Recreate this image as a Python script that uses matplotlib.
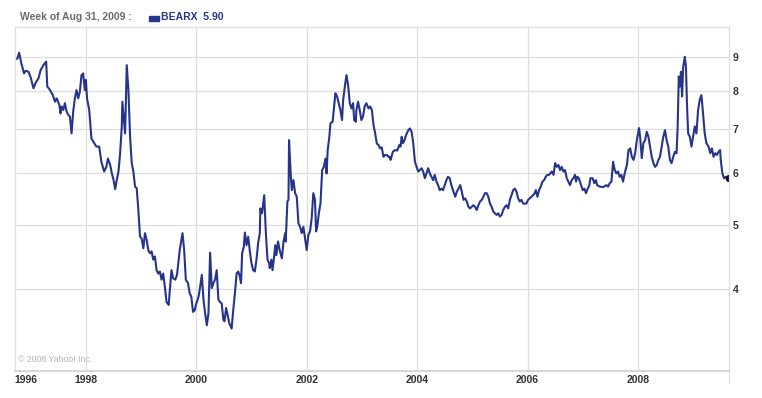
import matplotlib.pyplot as plt
from matplotlib.patches import Rectangle
from matplotlib.ticker import FixedLocator, NullLocator

# weekly closes (decimal year, price)
years = [
    1996.71, 1996.76, 1996.79, 1996.83, 1996.88, 1996.91, 1996.96, 1997.00, 1997.05, 1997.09,
    1997.14, 1997.18, 1997.23, 1997.28, 1997.30, 1997.35, 1997.40, 1997.44, 1997.47, 1997.52,
    1997.54, 1997.56, 1997.59, 1997.62, 1997.65, 1997.68, 1997.71, 1997.74, 1997.77, 1997.80,
    1997.83, 1997.86, 1997.89, 1997.92, 1997.95, 1997.98, 1998.00, 1998.02, 1998.06, 1998.10,
    1998.15, 1998.19, 1998.24, 1998.28, 1998.33, 1998.37, 1998.40, 1998.44, 1998.47, 1998.50,
    1998.53, 1998.56, 1998.59, 1998.62, 1998.65, 1998.66, 1998.71, 1998.74, 1998.77, 1998.80,
    1998.83, 1998.86, 1998.89, 1998.92, 1998.95, 1998.98, 1999.01, 1999.04, 1999.07, 1999.10,
    1999.13, 1999.16, 1999.19, 1999.22, 1999.25, 1999.28, 1999.31, 1999.34, 1999.37, 1999.40,
    1999.43, 1999.46, 1999.50, 1999.52, 1999.55, 1999.58, 1999.62, 1999.65, 1999.70, 1999.75,
    1999.78, 1999.81, 1999.85, 1999.88, 1999.91, 1999.94, 1999.97, 2000.00, 2000.04, 2000.07,
    2000.10, 2000.13, 2000.16, 2000.19, 2000.22, 2000.25, 2000.28, 2000.31, 2000.34, 2000.37,
    2000.40, 2000.43, 2000.46, 2000.49, 2000.51, 2000.54, 2000.56, 2000.60, 2000.64, 2000.67,
    2000.70, 2000.73, 2000.76, 2000.79, 2000.81, 2000.83, 2000.86, 2000.88, 2000.91, 2000.94,
    2000.97, 2001.00, 2001.03, 2001.06, 2001.09, 2001.12, 2001.15, 2001.16, 2001.19, 2001.23,
    2001.26, 2001.29, 2001.32, 2001.33, 2001.36, 2001.38, 2001.41, 2001.43, 2001.45, 2001.48,
    2001.51, 2001.55, 2001.58, 2001.61, 2001.62, 2001.65, 2001.67, 2001.68, 2001.71, 2001.73,
    2001.76, 2001.79, 2001.82, 2001.85, 2001.88, 2001.91, 2001.94, 2001.97, 2002.00, 2002.03,
    2002.06, 2002.09, 2002.12, 2002.15, 2002.17, 2002.19, 2002.22, 2002.25, 2002.28, 2002.31,
    2002.34, 2002.36, 2002.38, 2002.41, 2002.43, 2002.47, 2002.49, 2002.52, 2002.55, 2002.58,
    2002.61, 2002.64, 2002.66, 2002.69, 2002.72, 2002.75, 2002.78, 2002.81, 2002.84, 2002.86,
    2002.89, 2002.90, 2002.93, 2002.96, 2002.99, 2003.02, 2003.05, 2003.08, 2003.12, 2003.15,
    2003.18, 2003.21, 2003.24, 2003.27, 2003.30, 2003.33, 2003.36, 2003.39, 2003.42, 2003.45,
    2003.48, 2003.50, 2003.52, 2003.56, 2003.60, 2003.64, 2003.68, 2003.70, 2003.72, 2003.74,
    2003.76, 2003.80, 2003.84, 2003.87, 2003.90, 2003.93, 2003.96, 2003.99, 2004.02, 2004.05,
    2004.08, 2004.11, 2004.14, 2004.17, 2004.20, 2004.23, 2004.26, 2004.29, 2004.32, 2004.35,
    2004.38, 2004.41, 2004.44, 2004.47, 2004.50, 2004.53, 2004.56, 2004.59, 2004.62, 2004.66,
    2004.69, 2004.72, 2004.75, 2004.78, 2004.81, 2004.84, 2004.87, 2004.90, 2004.93, 2004.96,
    2004.99, 2005.02, 2005.05, 2005.08, 2005.11, 2005.14, 2005.17, 2005.20, 2005.23, 2005.26,
    2005.29, 2005.32, 2005.35, 2005.38, 2005.41, 2005.44, 2005.47, 2005.50, 2005.53, 2005.56,
    2005.59, 2005.62, 2005.65, 2005.68, 2005.71, 2005.74, 2005.77, 2005.80, 2005.83, 2005.86,
    2005.89, 2005.92, 2005.95, 2005.98, 2006.01, 2006.04, 2006.07, 2006.10, 2006.13, 2006.15,
    2006.18, 2006.21, 2006.24, 2006.27, 2006.30, 2006.33, 2006.36, 2006.39, 2006.44, 2006.47,
    2006.50, 2006.53, 2006.56, 2006.59, 2006.62, 2006.65, 2006.68, 2006.71, 2006.74, 2006.77,
    2006.80, 2006.83, 2006.86, 2006.88, 2006.90, 2006.93, 2006.97, 2007.00, 2007.03, 2007.06,
    2007.08, 2007.12, 2007.14, 2007.18, 2007.21, 2007.24, 2007.26, 2007.31, 2007.37, 2007.43,
    2007.46, 2007.49, 2007.52, 2007.55, 2007.58, 2007.61, 2007.64, 2007.67, 2007.70, 2007.73,
    2007.76, 2007.80, 2007.83, 2007.86, 2007.89, 2007.92, 2007.95, 2007.98, 2008.02, 2008.04,
    2008.07, 2008.10, 2008.13, 2008.16, 2008.19, 2008.22, 2008.25, 2008.28, 2008.31, 2008.34,
    2008.37, 2008.40, 2008.43, 2008.46, 2008.49, 2008.52, 2008.55, 2008.58, 2008.61, 2008.64,
    2008.67, 2008.70, 2008.72, 2008.74, 2008.76, 2008.78, 2008.80, 2008.82, 2008.85, 2008.87,
    2008.89, 2008.91, 2008.94, 2008.97, 2009.00, 2009.03, 2009.06, 2009.09, 2009.12, 2009.15,
    2009.18, 2009.21, 2009.24, 2009.28, 2009.31, 2009.34, 2009.37, 2009.40, 2009.43, 2009.46,
    2009.49, 2009.50, 2009.53, 2009.56, 2009.59, 2009.63, 2009.645,
]
prices = [
    8.93, 8.96, 9.14, 8.81, 8.50, 8.58, 8.55, 8.38, 8.07, 8.23,
    8.35, 8.60, 8.75, 8.86, 8.12, 8.02, 7.88, 7.70, 7.79, 7.61,
    7.39, 7.57, 7.48, 7.66, 7.44, 7.35, 7.31, 6.89, 7.44, 7.79,
    8.02, 7.79, 7.97, 8.45, 8.50, 8.02, 8.31, 7.79, 7.48, 6.77,
    6.66, 6.58, 6.58, 6.24, 6.03, 6.13, 6.31, 6.17, 5.99, 5.86,
    5.67, 5.86, 6.03, 6.43, 7.06, 7.70, 6.89, 8.75, 8.02, 6.81,
    6.21, 6.03, 5.72, 5.69, 5.27, 4.80, 4.77, 4.61, 4.86, 4.75,
    4.58, 4.53, 4.56, 4.43, 4.48, 4.27, 4.22, 4.25, 4.13, 4.22,
    4.03, 3.82, 3.78, 3.98, 4.27, 4.15, 4.13, 4.20, 4.58, 4.86,
    4.58, 4.13, 4.08, 3.94, 3.89, 3.69, 3.71, 3.80, 3.89, 4.03,
    4.20, 3.85, 3.67, 3.52, 3.67, 4.54, 4.01, 4.08, 4.13, 4.27,
    3.85, 3.82, 3.80, 3.59, 3.57, 3.74, 3.67, 3.54, 3.48, 3.72,
    3.94, 4.22, 4.25, 4.17, 4.08, 4.53, 4.63, 4.87, 4.66, 4.80,
    4.56, 4.37, 4.27, 4.25, 4.43, 4.69, 4.86, 5.30, 5.21, 5.55,
    4.86, 4.43, 4.37, 4.30, 4.43, 4.27, 4.48, 4.66, 4.50, 4.72,
    4.58, 4.45, 4.72, 4.86, 4.72, 5.43, 5.46, 6.73, 5.99, 5.65,
    5.85, 5.59, 5.52, 5.03, 4.97, 4.86, 4.97, 4.77, 4.58, 4.83,
    4.89, 5.12, 5.59, 5.46, 4.89, 4.97, 5.21, 5.40, 6.06, 6.13,
    6.31, 5.99, 6.50, 6.81, 7.14, 7.18, 7.48, 7.93, 7.84, 7.66,
    7.48, 7.22, 7.74, 8.11, 8.45, 8.16, 7.66, 7.52, 7.66, 7.22,
    7.18, 7.48, 7.70, 7.48, 7.22, 7.31, 7.57, 7.66, 7.52, 7.57,
    7.48, 7.10, 6.89, 6.65, 6.62, 6.54, 6.56, 6.35, 6.39, 6.39,
    6.35, 6.35, 6.28, 6.46, 6.50, 6.49, 6.62, 6.58, 6.81, 6.66,
    6.69, 6.85, 6.97, 7.01, 6.93, 6.66, 6.24, 6.13, 6.03, 6.06,
    6.10, 6.03, 5.89, 5.99, 6.10, 5.99, 5.92, 5.85, 5.96, 5.82,
    5.75, 5.65, 5.68, 5.65, 5.75, 5.85, 5.92, 5.89, 5.75, 5.62,
    5.52, 5.62, 5.68, 5.75, 5.62, 5.46, 5.49, 5.43, 5.33, 5.30,
    5.33, 5.36, 5.33, 5.27, 5.36, 5.43, 5.46, 5.52, 5.59, 5.59,
    5.52, 5.39, 5.33, 5.24, 5.21, 5.18, 5.21, 5.15, 5.18, 5.27,
    5.33, 5.36, 5.30, 5.46, 5.55, 5.65, 5.68, 5.62, 5.49, 5.43,
    5.46, 5.39, 5.39, 5.39, 5.46, 5.49, 5.52, 5.55, 5.59, 5.65,
    5.52, 5.65, 5.72, 5.82, 5.85, 5.92, 5.96, 5.96, 6.03, 5.96,
    6.21, 6.13, 6.17, 6.06, 6.13, 6.03, 6.06, 5.89, 5.82, 5.75,
    5.85, 5.89, 5.96, 5.82, 5.92, 5.89, 5.75, 5.65, 5.68, 5.59,
    5.65, 5.75, 5.89, 5.89, 5.79, 5.85, 5.75, 5.72, 5.71, 5.75,
    5.72, 5.79, 5.82, 6.24, 6.06, 5.99, 6.03, 5.92, 5.96, 5.82,
    5.99, 6.17, 6.50, 6.54, 6.35, 6.28, 6.43, 6.73, 7.02, 6.81,
    6.32, 6.66, 6.73, 6.93, 6.81, 6.58, 6.35, 6.21, 6.13, 6.17,
    6.28, 6.35, 6.58, 6.81, 6.97, 6.73, 6.58, 6.28, 6.21, 6.35,
    6.46, 6.43, 7.06, 8.41, 8.12, 8.55, 7.84, 8.70, 9.01, 8.70,
    7.57, 6.89, 6.81, 6.58, 6.81, 7.06, 6.89, 7.48, 7.75, 7.88,
    7.39, 6.89, 6.66, 6.58, 6.43, 6.54, 6.35, 6.43, 6.39, 6.46,
    6.50, 6.28, 5.99, 5.89, 5.92, 5.85, 5.90,
]

x_ticks = [1998, 2000, 2002, 2004, 2006, 2008]
y_ticks = [4, 5, 6, 7, 8, 9]
first_year_label = "1996"
week_label = "Week of Aug 31, 2009 :"
ticker = "BEARX"
last_close = "5.90"
credit = "\u00a9 2008 Yahoo! Inc."

LINE = "#27348b"
GRID = "#dedede"
TEXT = "#333333"
FONT = "Liberation Sans"

W, H = 762, 398
fig = plt.figure(figsize=(W / 100, H / 100), dpi=100)
ax = fig.add_axes([14.7 / W, 1 - 371 / H, (729 - 14.7) / W, (371 - 27) / H])

ax.plot(years, prices, color=LINE, lw=1.5, solid_joinstyle="round")
ax.plot(years[-1], prices[-1], "o", color="#0d0d2e", ms=4.5)

ax.set_yscale("log")
ax.set_ylim(3, 10)
ax.set_xlim(1996.71, 2009.65)

ax.yaxis.tick_right()
ax.yaxis.set_major_locator(FixedLocator(y_ticks))
ax.yaxis.set_minor_locator(NullLocator())
ax.set_yticklabels([str(v) for v in y_ticks])
ax.set_xticks(x_ticks)
ax.set_xticklabels([str(v) for v in x_ticks])
ax.xaxis.set_minor_locator(NullLocator())

ax.tick_params(axis="both", length=0, labelsize=7.5, labelcolor=TEXT)
ax.tick_params(axis="x", pad=3)
ax.tick_params(axis="y", pad=2.5)
for lbl in ax.get_xticklabels() + ax.get_yticklabels():
    lbl.set_fontweight("bold")
    lbl.set_family(FONT)

ax.grid(True, color=GRID, lw=0.9)
ax.set_axisbelow(True)
for side in ["left", "right", "top", "bottom"]:
    ax.spines[side].set_color(GRID)
    ax.spines[side].set_linewidth(0.9)
ax.spines["bottom"].set_color("#cfcfcf")
ax.spines["bottom"].set_linewidth(1.2)

# first year label sits at the left edge of the plot
ax.text(0, -0.012, first_year_label, transform=ax.transAxes, ha="left", va="top",
        fontsize=7.5, fontweight="bold", color=TEXT, family=FONT)
# right border runs a little past the bottom axis
ax.plot([1, 1], [0, -0.035], transform=ax.transAxes, color=GRID, lw=0.9, clip_on=False)

ax.text(0.005, 0.02, credit, transform=ax.transAxes, fontsize=6.3, color="#b4b4b4",
        family=FONT, va="bottom")

# header
fig.text(20 / W, 1 - 17 / H, week_label, fontsize=7.5, fontweight="bold",
         color="#6b6b6b", family=FONT, va="center")
fig.patches.append(Rectangle((149 / W, 1 - 20.5 / H), 10 / W, 5 / H,
                             transform=fig.transFigure, color=LINE, figure=fig))
fig.text(161 / W, 1 - 17 / H, f"{ticker}  {last_close}", fontsize=7.5, fontweight="bold",
         color=LINE, family=FONT, va="center")

fig.savefig("out.png", dpi=100, facecolor="white")
